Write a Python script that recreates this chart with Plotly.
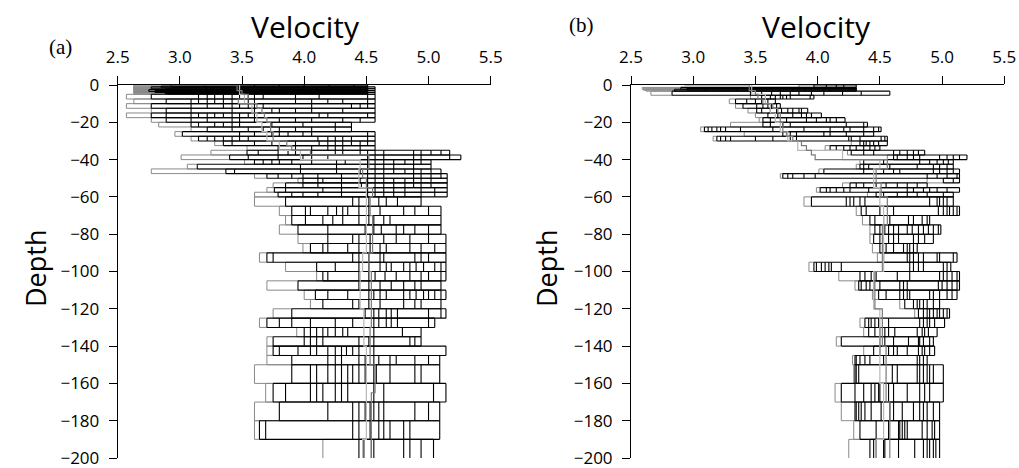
import plotly.graph_objects as go

# ---------------- data: panel (a) ----------------
a_top = [0, -1, -2, -3, -4, -0.5, -1.5, -2.5, -3.5,
         -5, -7.5, -10, -12.5, -15, -17.5, -20, -22.5, -25, -27.5, -30, -32.5, -35, -37.5,
         -40, -42.5, -45, -47.5, -50, -52.5, -55, -57.5,
         -60, -65, -70, -75, -80, -85, -90, -95, -100, -105, -110, -115, -120, -125,
         -130, -135, -140, -145, -150, -160, -170, -180, -190]
a_bot = [-1, -2, -3, -4, -5, -1.5, -2.5, -3.5, -4.5,
         -7.5, -10, -12.5, -15, -17.5, -20, -22.5, -25, -27.5, -30, -32.5, -35, -37.5, -40,
         -42.5, -45, -47.5, -50, -52.5, -55, -57.5, -60,
         -65, -70, -75, -80, -85, -90, -95, -100, -105, -110, -115, -120, -125, -130,
         -135, -140, -145, -150, -160, -170, -180, -190, -210]
a_breaks = [
    [2.63, 2.93, 3.2, 3.46, 3.6, 3.8, 4.0, 4.2, 4.4, 4.51],
    [2.63, 2.77, 3.0, 3.22, 3.46, 3.55, 3.7, 3.9, 4.1, 4.3, 4.51, 4.57],
    [2.63, 2.89, 3.09, 3.35, 3.5, 3.65, 3.85, 4.05, 4.25, 4.45, 4.51, 4.57],
    [2.63, 2.8, 3.02, 3.28, 3.48, 3.6, 3.78, 3.95, 4.15, 4.35, 4.51, 4.57],
    [2.63, 2.9, 3.15, 3.42, 3.55, 3.7, 3.9, 4.1, 4.3, 4.51, 4.57],
    [2.63, 2.85, 3.1, 3.3, 3.5, 3.75, 3.95, 4.15, 4.35, 4.51],
    [2.63, 2.95, 3.25, 3.45, 3.62, 3.82, 4.02, 4.22, 4.42, 4.51],
    [2.63, 2.75, 3.05, 3.3, 3.52, 3.72, 3.92, 4.12, 4.32, 4.51],
    [2.63, 2.88, 3.12, 3.38, 3.58, 3.76, 3.98, 4.18, 4.38, 4.51],
    [2.57, 2.77, 3.15, 3.22, 3.28, 3.35, 3.42, 3.48, 3.55, 3.60, 3.67, 3.93, 4.12, 4.51, 4.57],
    [2.63, 2.89, 3.09, 3.15, 3.22, 3.28, 3.35, 3.42, 3.55, 3.60, 3.93, 4.06, 4.19, 4.31, 4.51, 4.57],
    [2.57, 2.77, 3.09, 3.22, 3.35, 3.42, 3.48, 3.55, 3.60, 3.67, 4.06, 4.38, 4.45, 4.51, 4.57],
    [2.77, 2.89, 3.09, 3.42, 3.60, 3.74, 3.80, 3.93, 4.06, 4.31, 4.57],
    [2.57, 2.77, 2.89, 3.09, 3.15, 3.22, 3.28, 3.35, 3.42, 3.48, 3.55, 3.60, 4.12, 4.19, 4.51, 4.57],
    [2.77, 2.89, 3.09, 3.22, 3.42, 3.48, 3.60, 3.80, 3.93, 4.06, 4.31, 4.45, 4.57],
    [2.83, 3.09, 3.15, 3.28, 3.35, 3.42, 3.48, 3.74, 3.99, 4.25, 4.38],
    [3.09, 3.22, 3.42, 3.55, 3.67, 3.80, 3.93, 4.06, 4.25, 4.38],
    [2.96, 3.02, 3.48, 3.60, 3.74, 3.80, 3.87, 3.99, 4.06, 4.51, 4.57],
    [3.09, 3.15, 3.22, 3.28, 3.35, 3.42, 3.48, 3.55, 4.11, 4.19, 4.25, 4.31, 4.38, 4.51, 4.57],
    [3.28, 3.35, 3.42, 3.60, 3.74, 3.93, 4.12, 4.19, 4.25, 4.31, 4.38, 4.45, 4.51, 4.57],
    [3.54, 3.79, 3.93, 4.06, 4.19, 4.25, 4.31, 4.45, 4.57],
    [3.25, 3.54, 3.63, 3.79, 3.87, 3.93, 4.06, 4.25, 4.31, 4.45, 4.51, 4.57, 4.64, 4.88, 4.94, 5.02, 5.10, 5.17],
    [3.01, 3.40, 3.55, 3.79, 3.99, 4.06, 4.19, 4.51, 4.57, 4.64, 4.88, 4.94, 5.17, 5.26],
    [3.52, 3.60, 3.67, 3.74, 3.80, 3.90, 4.06, 4.26, 4.33, 4.51, 4.57, 4.64, 4.72, 4.81, 4.88, 4.94, 5.02],
    [3.06, 3.14, 3.97, 4.26, 4.51, 4.57, 4.64, 4.72, 4.88, 5.02],
    [2.77, 3.37, 3.44, 3.97, 4.26, 4.45, 4.51, 4.57, 4.64, 4.72, 4.81, 4.88, 4.94, 5.02, 5.10],
    [3.60, 3.70, 3.79, 3.90, 3.99, 4.11, 4.30, 4.51, 4.57, 4.64, 4.88, 4.94, 5.02, 5.10, 5.15],
    [3.95, 3.99, 4.11, 4.15, 4.30, 4.45, 4.51, 4.57, 4.64, 4.72, 4.81, 4.88, 4.94, 5.02, 5.15],
    [3.75, 3.85, 3.99, 4.11, 4.30, 4.46, 4.51, 4.57, 4.64, 4.72, 4.81, 4.88, 4.94, 5.02, 5.15],
    [3.70, 3.76, 3.85, 4.15, 4.30, 4.51, 4.57, 4.64, 4.72, 4.81, 4.94, 5.05, 5.15],
    [3.60, 3.79, 3.90, 3.99, 4.11, 4.30, 4.51, 4.57, 4.64, 4.72, 4.81, 4.94, 5.05, 5.15],
    [3.60, 3.85, 4.39, 4.44, 4.52, 4.60, 4.66, 4.75, 4.94],
    [3.80, 3.90, 4.01, 4.05, 4.19, 4.26, 4.31, 4.35, 4.44, 4.52, 4.61, 4.80, 4.89, 5.00, 5.10],
    [3.85, 3.90, 4.01, 4.15, 4.23, 4.31, 4.44, 4.52, 4.56, 4.64, 4.69, 5.10],
    [3.80, 3.95, 4.19, 4.49, 4.56, 4.62, 4.74, 4.80, 4.89, 5.00, 5.10],
    [3.95, 4.19, 4.39, 4.44, 4.53, 4.64, 4.74, 4.85, 5.00, 5.14],
    [3.99, 4.05, 4.15, 4.19, 4.35, 4.44, 4.53, 4.61, 4.66, 4.85, 4.94, 5.05, 5.14],
    [3.64, 3.70, 3.75, 4.39, 4.44, 4.52, 4.61, 4.64, 4.89, 4.94, 5.00, 5.14],
    [3.85, 4.10, 4.25, 4.44, 4.52, 4.61, 4.66, 4.70, 4.80, 4.85, 4.90, 4.96, 5.05, 5.10, 5.14],
    [4.10, 4.15, 4.19, 4.44, 4.52, 4.57, 4.65, 4.74, 4.85, 4.94, 5.00, 5.10, 5.14],
    [3.70, 3.95, 4.44, 4.52, 4.61, 4.70, 4.80, 4.89, 4.94, 5.10],
    [4.00, 4.09, 4.19, 4.35, 4.52, 4.56, 4.61, 4.66, 4.80, 4.85, 4.90, 4.96, 5.00, 5.05, 5.10, 5.14],
    [4.05, 4.15, 4.39, 4.44, 4.52, 4.61, 4.80, 4.89, 4.94, 5.10],
    [3.75, 3.90, 4.49, 4.56, 4.60, 4.66, 4.70, 4.75, 5.00, 5.10, 5.14],
    [3.64, 3.70, 3.80, 3.90, 4.05, 4.25, 4.39, 4.56, 4.60, 4.66, 4.70, 4.75, 5.00, 5.05],
    [3.94, 4.00, 4.05, 4.10, 4.15, 4.19, 4.25, 4.31, 4.35, 4.56, 4.79, 4.94],
    [3.70, 3.75, 4.00, 4.05, 4.10, 4.15, 4.44, 4.52, 4.56, 4.85, 4.89, 4.94],
    [3.70, 3.75, 3.80, 3.95, 4.05, 4.10, 4.19, 4.25, 4.30, 4.34, 4.39, 4.44, 4.56, 5.14],
    [3.70, 3.90, 4.19, 4.25, 4.30, 4.44, 4.49, 4.56, 4.60, 4.69, 4.74, 4.89, 5.00, 5.09],
    [3.60, 3.90, 4.05, 4.10, 4.19, 4.25, 4.30, 4.35, 4.39, 4.44, 4.49, 4.56, 4.58, 4.69, 4.89, 4.94, 5.09],
    [3.69, 3.75, 3.85, 4.05, 4.10, 4.15, 4.25, 4.30, 4.35, 4.56, 4.64, 5.04, 5.14],
    [3.60, 3.80, 4.19, 4.39, 4.44, 4.49, 4.53, 4.56, 4.60, 4.64, 4.89, 5.00, 5.09],
    [3.60, 3.64, 3.69, 4.39, 4.44, 4.53, 4.60, 4.64, 4.69, 4.80, 4.85, 5.09],
    [4.15, 4.44, 4.48, 4.54, 4.56, 4.80, 4.85, 4.94, 5.04],
]

# step profiles, panel (a)
a_line1_depth = [0, 0, -3, -5, -7.5, -10, -12.5, -15, -17.5, -20, -25, -30, -32.5, -35, -37.5,
                 -45, -50, -55, -60, -70, -90, -100, -130, -150, -165, -200]
a_line1_vel = [2.93, 3.46, 3.50, 3.55, 3.47, 3.62, 3.66, 3.68, 3.70, 3.73, 3.75, 3.86, 3.90, 4.05,
               4.52, 4.47, 4.50, 4.55, 4.53, 4.55, 4.52, 4.54, 4.53, 4.57, 4.54]
a_line2_depth = [0, -5, -10, -15, -20, -25, -30, -35, -40, -45, -55, -90, -100, -120, -140, -190, -200]
a_line2_vel = [3.48, 3.52, 3.58, 3.62, 3.66, 3.70, 3.80, 3.97, 4.45, 4.44, 4.50, 4.47, 4.45,
               4.48, 4.50, 4.47]

# ---------------- data: panel (b) ----------------
b_top = [0, -1.3, -2.3, -1.8, -3.3,
         -5.5, -7.5, -10, -12.5, -15, -17.5, -20, -22.5, -25, -27.5, -30, -32.5, -35, -37.5,
         -40, -42.5, -45, -47.5, -50, -52.5, -55, -57.5,
         -60, -65, -70, -75, -80, -85, -90, -95, -100, -105, -110, -115, -120, -125,
         -130, -135, -140, -145, -150, -160, -170, -180, -190]
b_bot = [-1.3, -2.3, -3.3, -2.8, -5.5,
         -7.5, -10, -12.5, -15, -17.5, -20, -22.5, -25, -27.5, -30, -32.5, -35, -37.5, -40,
         -42.5, -45, -47.5, -50, -52.5, -55, -57.5, -60,
         -65, -70, -75, -80, -85, -90, -95, -100, -105, -110, -115, -120, -125, -130,
         -135, -140, -145, -150, -160, -170, -180, -190, -210]
b_breaks = [
    [3.85, 3.97, 4.07, 4.15, 4.21, 4.31],
    [2.59, 2.9, 3.2, 3.46, 3.6, 3.85, 4.0, 4.15, 4.31],
    [2.62, 2.85, 3.1, 3.35, 3.5, 3.7, 3.9, 4.1, 4.31],
    [2.60, 2.95, 3.3, 3.55, 3.8, 4.05, 4.31],
    [2.66, 2.83, 3.46, 3.55, 3.63, 3.7, 3.78, 3.85, 3.95, 4.05, 4.2, 4.35, 4.58],
    [3.46, 3.55, 3.62, 3.66, 3.70, 3.72, 3.75, 3.78, 3.94, 3.97],
    [3.29, 3.34, 3.43, 3.50, 3.55, 3.60, 3.66],
    [3.34, 3.40, 3.51, 3.56, 3.60, 3.63, 3.67, 3.70],
    [3.44, 3.51, 3.55, 3.62, 3.67, 3.71, 3.76, 3.80, 3.85, 3.87, 3.92],
    [3.50, 3.60, 3.68, 3.80, 3.87, 3.91, 3.95, 4.03],
    [3.53, 3.56, 3.62, 3.75, 3.91, 3.99, 4.07, 4.10, 4.15, 4.22],
    [3.30, 3.56, 3.62, 3.72, 3.78, 4.23, 4.37, 4.40],
    [3.06, 3.09, 3.12, 3.15, 3.19, 3.22, 3.26, 3.38, 3.64, 3.89, 4.10, 4.21, 4.26, 4.37, 4.45, 4.49, 4.51],
    [3.41, 3.72, 3.78, 3.83, 4.05, 4.10, 4.23, 4.37, 4.45],
    [3.16, 3.19, 3.22, 3.26, 3.30, 3.50, 3.64, 3.78, 3.83, 4.25, 4.27, 4.34, 4.51, 4.54, 4.56],
    [4.27, 4.34, 4.37, 4.39, 4.42, 4.45, 4.49, 4.56],
    [4.06, 4.10, 4.15, 4.21, 4.26, 4.31, 4.37, 4.42, 4.46, 4.50],
    [4.24, 4.27, 4.37, 4.45, 4.61, 4.66, 4.72, 4.77, 4.81, 4.86],
    [4.56, 4.61, 4.64, 4.72, 4.77, 4.82, 4.98, 5.04, 5.09, 5.14, 5.20],
    [4.34, 4.37, 4.53, 4.82, 4.90, 4.96, 5.01, 5.05, 5.09],
    [4.31, 4.34, 4.37, 4.41, 4.58, 4.80, 4.93, 4.98, 5.04, 5.09],
    [4.01, 4.05, 4.37, 4.53, 4.61, 4.66, 4.93, 4.98, 5.04, 5.09, 5.14],
    [3.70, 3.72, 3.76, 3.80, 3.89, 3.98, 4.88, 4.96, 5.04, 5.12, 5.14],
    [4.88, 5.01, 5.09, 5.14],
    [4.20, 4.26, 4.31, 4.37, 4.47, 4.55, 4.64, 4.72, 4.80, 4.88],
    [3.99, 4.02, 4.07, 4.10, 4.15, 4.21, 4.26, 4.41, 4.72, 4.77, 4.85, 4.90, 4.96, 5.04, 5.14],
    [4.40, 4.47, 4.53, 4.64, 4.72, 4.80, 4.88, 5.01, 5.09],
    [3.89, 3.95, 4.23, 4.26, 4.29, 4.34, 4.38, 4.90, 4.96, 4.98, 5.01, 5.04, 5.09],
    [4.31, 4.35, 4.39, 4.50, 4.61, 4.97, 5.01, 5.04, 5.06, 5.09, 5.12, 5.14],
    [4.36, 4.42, 4.46, 4.53, 4.58, 4.73, 4.77, 4.84, 4.88, 4.90],
    [4.42, 4.46, 4.50, 4.54, 4.57, 4.61, 4.65, 4.72, 4.76, 4.81, 4.85, 4.89, 4.93, 4.97, 4.99],
    [4.42, 4.45, 4.50, 4.57, 4.61, 4.65, 4.77, 4.81, 4.86, 4.93],
    [4.44, 4.50, 4.55, 4.61, 4.69, 4.72, 4.74, 4.77, 4.80],
    [4.48, 4.53, 4.72, 4.74, 4.77, 4.81, 4.85, 4.96, 4.98, 5.09, 5.12],
    [3.93, 3.97, 3.99, 4.03, 4.06, 4.09, 4.11, 4.19, 4.74, 4.77, 4.81, 4.85, 5.01, 5.04, 5.07],
    [4.17, 4.34, 4.38, 4.43, 4.47, 4.64, 4.74, 4.98, 5.01, 5.04, 5.08, 5.12, 5.14],
    [4.30, 4.33, 4.35, 4.39, 4.42, 4.45, 4.50, 4.66, 4.69, 4.72, 4.97, 5.00, 5.04, 5.08, 5.12, 5.14],
    [4.44, 4.49, 4.55, 4.66, 4.69, 4.72, 4.74, 4.90, 4.93, 4.98, 5.04, 5.08, 5.12],
    [4.66, 4.70, 4.77, 4.80, 4.82, 4.85, 4.88, 4.93, 4.98],
    [4.78, 4.81, 4.85, 4.88, 4.90, 4.93, 4.96, 4.98, 5.01, 5.04, 5.06],
    [4.34, 4.38, 4.41, 4.43, 4.46, 4.49, 4.57, 4.82, 4.85, 4.88, 4.90, 4.94, 5.02],
    [4.37, 4.41, 4.46, 4.50, 4.54, 4.57, 4.62, 4.80, 4.84, 4.86, 4.89, 4.96],
    [4.15, 4.19, 4.50, 4.54, 4.61, 4.73, 4.81, 4.82, 4.85, 4.90, 4.93],
    [4.37, 4.45, 4.50, 4.57, 4.61, 4.64, 4.72, 4.81, 4.84, 4.86, 4.90, 4.94],
    [4.28, 4.30, 4.31, 4.34, 4.38, 4.42, 4.53, 4.80, 4.82, 4.85, 4.88],
    [4.29, 4.30, 4.31, 4.33, 4.60, 4.64, 4.80, 4.82, 4.85, 4.88, 4.90, 4.93, 5.01],
    [4.14, 4.19, 4.30, 4.37, 4.43, 4.46, 4.49, 4.50, 4.57, 4.61, 4.72, 4.82, 4.86, 4.90, 5.01],
    [4.19, 4.30, 4.31, 4.33, 4.35, 4.38, 4.43, 4.51, 4.58, 4.61, 4.68, 4.77, 4.82, 4.85, 4.88, 4.93, 4.98],
    [4.29, 4.34, 4.47, 4.57, 4.65, 4.66, 4.68, 4.70, 4.72, 4.84, 4.88, 4.92, 4.94, 4.98],
    [4.25, 4.42, 4.45, 4.47, 4.53, 4.54, 4.65, 4.78, 4.85, 4.88, 4.90, 4.93, 4.95, 4.98],
]

b_line1_depth = [0, 0, -3, -5, -7.5, -10, -12.5, -15, -20, -25, -27.5, -30, -32.5, -35, -37.5,
                 -40, -45, -52.5, -60, -75, -100, -120, -140, -170, -200]
b_line1_vel = [2.93, 3.45, 3.50, 3.52, 3.56, 3.64, 3.68, 3.70, 3.72, 3.75, 3.80, 3.87, 3.91, 3.95,
               3.98, 4.56, 4.47, 4.51, 4.56, 4.52, 4.46, 4.52, 4.55, 4.58]
b_line2_depth = [0, -5, -10, -15, -20, -25, -30, -35, -40, -45, -55, -65, -100, -120, -160, -190, -200]
b_line2_vel = [3.47, 3.58, 3.62, 3.66, 3.70, 3.76, 3.84, 4.20, 4.50, 4.45, 4.50, 4.53, 4.45,
               4.50, 4.53, 4.47]

x_ticks = [2.5, 3.0, 3.5, 4.0, 4.5, 5.0, 5.5]
x_labels = ["2.5", "3.0", "3.5", "4.0", "4.5", "5.0", "5.5"]
y_ticks = [0, -20, -40, -60, -80, -100, -120, -140, -160, -180, -200]


def boxes(tops, bots, breaks):
    bx, by, gx, gy = [], [], [], []
    for t, b, br in zip(tops, bots, breaks):
        g0, g1, r = br[0], br[1], br[-1]
        gx += [g0, g1, None, g0, g1, None, g0, g0, None]
        gy += [t, t, None, b, b, None, t, b, None]
        bx += [g1, r, None, g1, r, None]
        by += [t, t, None, b, b, None]
        for v in br[1:]:
            bx += [v, v, None]
            by += [t, b, None]
    return bx, by, gx, gy


def steps(depths, vels):
    xs, ys = [], []
    for i, v in enumerate(vels):
        xs += [v, v]
        ys += [depths[i], depths[i + 1]]
    return xs, ys


fig = go.Figure()
panels = [(a_top, a_bot, a_breaks, a_line1_depth, a_line1_vel, a_line2_depth, a_line2_vel, "x", "y"),
          (b_top, b_bot, b_breaks, b_line1_depth, b_line1_vel, b_line2_depth, b_line2_vel, "x2", "y2")]
for tops, bots, brs, d1, v1, d2, v2, xa, ya in panels:
    bx, by, gx, gy = boxes(tops, bots, brs)
    fig.add_trace(go.Scatter(x=gx, y=gy, mode="lines", line=dict(color="#8a8a8a", width=1),
                             xaxis=xa, yaxis=ya, hoverinfo="skip"))
    fig.add_trace(go.Scatter(x=bx, y=by, mode="lines", line=dict(color="black", width=1.1),
                             xaxis=xa, yaxis=ya, hoverinfo="skip"))
    sx, sy = steps(d2, v2)
    fig.add_trace(go.Scatter(x=sx, y=sy, mode="lines", line=dict(color="#b8b8b8", width=1.2),
                             xaxis=xa, yaxis=ya, hoverinfo="skip"))
    sx, sy = steps(d1, v1)
    fig.add_trace(go.Scatter(x=sx, y=sy, mode="lines", line=dict(color="#7a7a7a", width=1.2),
                             xaxis=xa, yaxis=ya, hoverinfo="skip"))

W, H = 1019, 468


def px_x(px):
    return px / W


def px_y(py):
    return 1 - py / H


tickfont = dict(family="Open Sans", size=17, color="black")
xcommon = dict(range=[2.5, 5.5], side="top", tickvals=x_ticks, ticktext=x_labels,
               showline=True, linecolor="black", linewidth=1, ticks="outside", ticklen=8,
               tickcolor="black", showgrid=False, zeroline=False, tickfont=tickfont,
               ticklabelstandoff=6, automargin=False, ticklabeloverflow="allow")
ycommon = dict(range=[-200, 0], tickvals=y_ticks, showline=True, linecolor="black", linewidth=1,
               ticks="outside", ticklen=8, tickcolor="black", showgrid=False, zeroline=False,
               tickfont=tickfont, ticklabelstandoff=6, automargin=False,
               ticklabeloverflow="allow")

ydom = [px_y(458), px_y(85)]
fig.update_layout(
    width=W, height=H, margin=dict(l=0, r=0, t=0, b=0, autoexpand=False),
    paper_bgcolor="white", plot_bgcolor="white", showlegend=False, hovermode=False,
    xaxis=dict(domain=[px_x(117.7), px_x(490.7)], anchor="y", **xcommon),
    yaxis=dict(domain=ydom, anchor="x", **ycommon),
    xaxis2=dict(domain=[px_x(631), px_x(1004.3)], anchor="y2", **xcommon),
    yaxis2=dict(domain=ydom, anchor="x2", **ycommon),
)

vel_font = dict(family="Open Sans", size=30, color="black")
depth_font = dict(family="Open Sans", size=27, color="black")
label_font = dict(family="Liberation Serif", size=21, color="black")
ann = [
    dict(text="Velocity", x=px_x(305), y=px_y(26), font=vel_font),
    dict(text="Velocity", x=px_x(816), y=px_y(26), font=vel_font),
    dict(text="Depth", x=px_x(35), y=px_y(269), font=depth_font, textangle=-90),
    dict(text="Depth", x=px_x(546), y=px_y(269), font=depth_font, textangle=-90),
    dict(text="(a)", x=px_x(60), y=px_y(47), font=label_font),
    dict(text="(b)", x=px_x(581), y=px_y(25), font=label_font),
]
for a in ann:
    fig.add_annotation(xref="paper", yref="paper", xanchor="center", yanchor="middle",
                       showarrow=False, **a)

# The page body has a default 8px margin; remove it so the 1019x468 figure fills the window.
fig.write_html("out.html", config={"displayModeBar": False},
               post_script="document.body.style.margin='0px';")
